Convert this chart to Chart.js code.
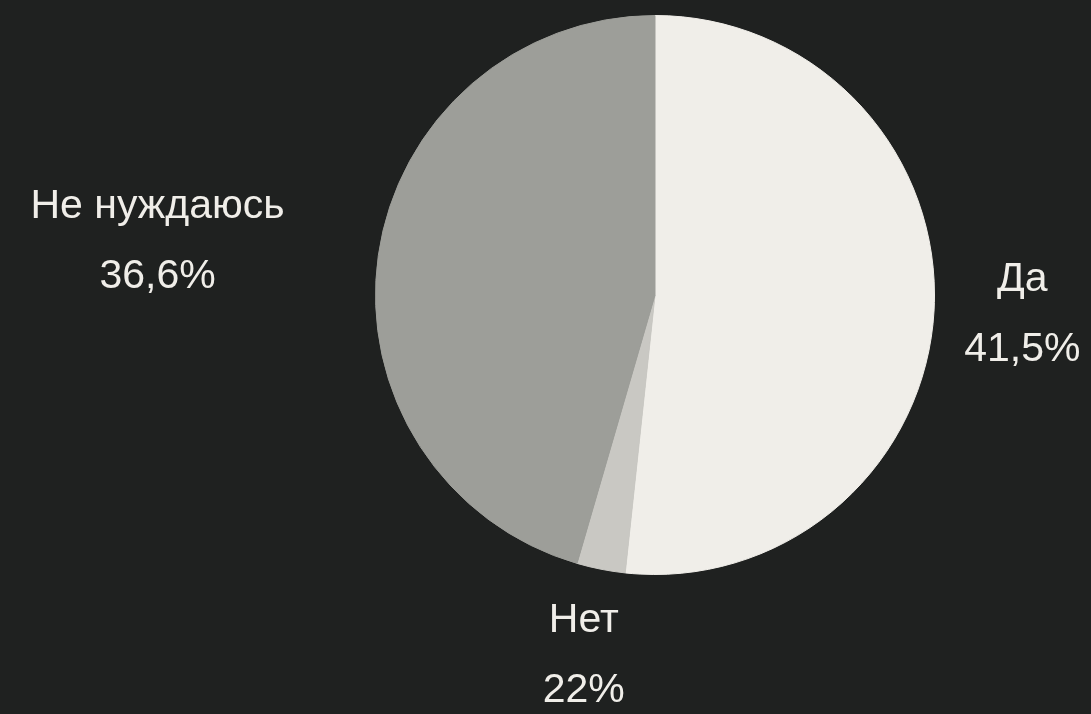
<!DOCTYPE html>
<html>
<head>
<meta charset="utf-8">
<script src="https://cdn.jsdelivr.net/npm/chart.js@4/dist/chart.umd.min.js"></script>
<style>
  html, body { margin: 0; padding: 0; background: #1f2120; }
  #wrap { width: 1091px; height: 714px; position: relative; }
</style>
</head>
<body>
<div id="wrap"><canvas id="c"></canvas></div>
<script>
// Data
const categories = ["Да", "Нет", "Не нуждаюсь"];
const sliceValues = [51.7, 2.8, 45.5];          // slice sizes as drawn
const percentLabels = ["41,5%", "22%", "36,6%"]; // percentage texts shown

// Styles
const sliceColors = ["#f0eee9", "#c9c8c3", "#9d9e99"];
const labelDistance = [1.316, 1.317, 1.79];      // radial factor for label placement
const labelAngleShift = [0, 0, -2];              // degrees
const textColor = "#f0eee9";
const fontSize = 41;
const lineGap = 70;

const outLabels = {
  id: "outLabels",
  afterDatasetsDraw(chart) {
    const ctx = chart.ctx;
    const meta = chart.getDatasetMeta(0);
    ctx.save();
    ctx.fillStyle = textColor;
    ctx.font = fontSize + "px 'Liberation Sans', Arial, sans-serif";
    ctx.textAlign = "center";
    ctx.textBaseline = "middle";
    meta.data.forEach((arc, i) => {
      const p = arc.getProps(["x", "y", "startAngle", "endAngle", "outerRadius"], true);
      const mid = (p.startAngle + p.endAngle) / 2 + labelAngleShift[i] * Math.PI / 180;
      const d = p.outerRadius * labelDistance[i];
      const cx = p.x + Math.cos(mid) * d;
      const cy = p.y + Math.sin(mid) * d;
      ctx.fillText(categories[i], cx, cy - lineGap / 2);
      ctx.fillText(percentLabels[i], cx, cy + lineGap / 2);
    });
    ctx.restore();
  }
};

new Chart(document.getElementById("c"), {
  type: "pie",
  data: {
    labels: categories,
    datasets: [{
      data: sliceValues,
      backgroundColor: sliceColors,
      borderColor: sliceColors,
      borderWidth: 1,
      hoverOffset: 0
    }]
  },
  options: {
    responsive: true,
    maintainAspectRatio: false,
    animation: false,
    layout: { padding: { top: 15, bottom: 139, left: 375, right: 156 } },
    plugins: {
      legend: { display: false },
      tooltip: { enabled: false }
    }
  },
  plugins: [outLabels]
});
</script>
</body>
</html>
